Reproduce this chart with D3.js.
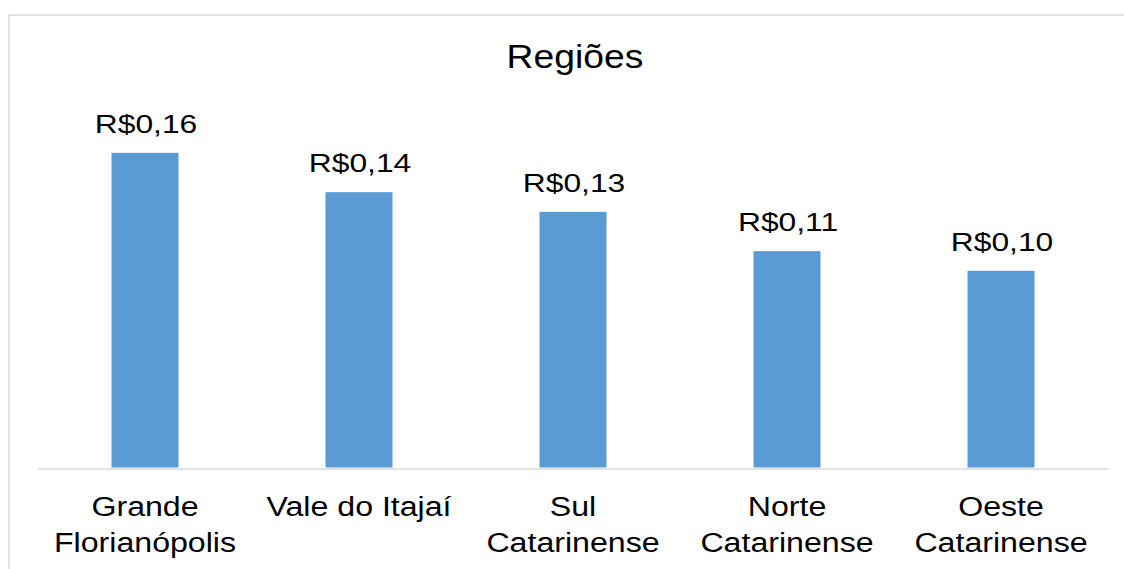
<!DOCTYPE html>
<html lang='pt'>
  <head>
    <meta charset='utf-8'>
    <style type='text/css'>
      body {margin: 0; background-color: #fff;}
      svg {display: block; font-family: 'Liberation Sans', Arial, sans-serif;}
    </style>
  </head>
  <body>
    <svg id='chart' width='1124' height='569'></svg>

    <script src='https://d3js.org/d3.v7.min.js'></script>
    <script type='text/javascript'>
        // Data
        var categories = ["Grande Florianópolis", "Vale do Itajaí", "Sul Catarinense", "Norte Catarinense", "Oeste Catarinense"];
        var values = [0.16, 0.14, 0.13, 0.11, 0.10];
        var title = "Regiões";

        var svg = d3.select("#chart");

        // Chart frame (runs past the right and bottom edges of the picture)
        svg.append("rect")
            .attr("x", 9).attr("y", 15)
            .attr("width", 1300).attr("height", 700)
            .attr("fill", "none")
            .attr("stroke", "#d9d9d9")
            .attr("stroke-width", 1.5);

        // Plot area
        var plotLeft = 38, plotRight = 1108, plotTop = 113.5, plotBottom = 467.5;

        var x = d3.scaleBand().domain(categories).range([plotLeft, plotRight]).paddingInner(0.687).paddingOuter(0.3435);
        var y = d3.scaleLinear().domain([0, 0.18]).range([plotBottom, plotTop]);

        // text is wider than tall in the original, so stretch horizontally
        function stretched(sel, sx) {
          return sel.attr("transform", function() {
            var t = d3.select(this);
            return "translate(" + t.attr("data-x") + "," + t.attr("data-y") + ") scale(" + sx + ",1)";
          });
        }

        // Title
        svg.append("text")
            .attr("x", 0).attr("y", 0)
            .attr("transform", "translate(575,68) scale(1.13,1)")
            .attr("text-anchor", "middle")
            .attr("font-size", 33)
            .attr("fill", "#000")
            .text(title);

        // Bars
        svg.selectAll(".bar")
          .data(values)
          .enter().append("rect")
            .attr("class", "bar")
            .attr("x", function(d, i) { return x(categories[i]); })
            .attr("y", function(d) { return y(d); })
            .attr("width", x.bandwidth())
            .attr("height", function(d) { return y(0) - y(d); })
            .attr("fill", "#5b9bd5");

        // Axis line
        var axis = svg.append("g")
            .attr("transform", "translate(0," + (plotBottom + 1) + ")")
            .call(d3.axisBottom(x).tickSize(0).tickFormat(""));
        axis.select(".domain").attr("stroke", "#d9d9d9").attr("stroke-width", 1.5);

        // Value labels
        var fmt = function(v) { return "R$" + d3.format(".2f")(v).replace(".", ","); };
        svg.selectAll(".value")
          .data(values)
          .enter().append("text")
            .attr("class", "value")
            .attr("data-x", function(d, i) { return x(categories[i]) + x.bandwidth() / 2 + 1; })
            .attr("data-y", function(d) { return y(d) - 20; })
            .attr("text-anchor", "middle")
            .attr("font-size", 26.5)
            .attr("fill", "#000")
            .text(fmt)
            .call(stretched, 1.2);

        // Category labels, wrapped to the band step width
        var sxCat = 1.19, catSize = 27, lineH = 36, step = x.step();
        categories.forEach(function(name, i) {
          var cx = x(name) + x.bandwidth() / 2;
          var probe = svg.append("text").attr("font-size", catSize);
          var words = name.split(" "), lines = [], line = [];
          words.forEach(function(w) {
            var trial = line.concat([w]).join(" ");
            probe.text(trial);
            if (line.length && probe.node().getComputedTextLength() * sxCat > step - 10) {
              lines.push(line.join(" "));
              line = [w];
            } else {
              line.push(w);
            }
          });
          lines.push(line.join(" "));
          probe.remove();

          lines.forEach(function(l, j) {
            svg.append("text")
                .attr("class", "category")
                .attr("data-x", cx)
                .attr("data-y", 516 + j * lineH)
                .attr("text-anchor", "middle")
                .attr("font-size", catSize)
                .attr("fill", "#000")
                .text(l)
                .call(stretched, sxCat);
          });
        });
    </script>
  </body>
</html>
